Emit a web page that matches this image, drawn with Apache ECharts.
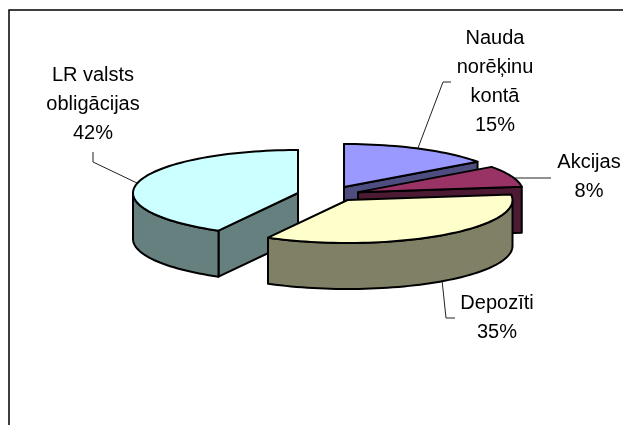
<!DOCTYPE html>
<html lang="lv">
<head>
    <meta charset="UTF-8">
    <title>pie</title>
    <script src="https://cdn.jsdelivr.net/npm/echarts@6/dist/echarts.min.js"></script>
    <style>
        html, body { margin: 0; padding: 0; background: #fff; }
        #view { width: 623px; height: 425px; }
    </style>
</head>
<body>
    <div id="view"></div>
    <script>
    var categories = ['Nauda\nnorēķinu\nkontā', 'Akcijas', 'Depozīti', 'LR valsts\nobligācijas'];
    var values = [15, 8, 35, 42];

    // styles and layout, same order as categories
    var topColors = ['#9999FF', '#993366', '#FFFFCC', '#CCFFFF'];
    var sideColors = ['#4D4D80', '#4D1A33', '#808066', '#668080'];
    var explode = [[0.279, 0.14], [0.364, 0.02], [0.3, -0.163], [0, 0]];
    var drawOrder = [0, 1, 3, 2];
    var labelPos = [[495, 23.4], [589, 147.5], [497, 288.5], [93, 60.5]];
    var leaders = [
        [[418, 148], [443, 82], [451, 82]],
        [[513, 178], [551, 178]],
        [[442, 280], [446, 318], [455, 318]],
        [[137, 183], [93, 162], [93, 152]]
    ];
    var depth = 46 / 43; // in y axis units

    var total = values.reduce(function (a, b) { return a + b; }, 0);
    var starts = [];
    var sum = 0;
    values.forEach(function (v) {
        starts.push(sum / total * 360);
        sum += v;
    });

    function rad(d) { return d * Math.PI / 180; }

    function renderSlice(params, api) {
        var i = api.value(0);
        var a = starts[i];
        var b = a + values[i] / total * 360;
        var ox = explode[i][0];
        var oy = explode[i][1];
        function pt(deg, down) {
            return api.coord([ox + Math.sin(rad(deg)), oy + Math.cos(rad(deg)) - (down ? depth : 0)]);
        }
        function apex(down) {
            return api.coord([ox, oy - (down ? depth : 0)]);
        }
        function piece(points, color) {
            return {
                type: 'polygon',
                shape: { points: points },
                style: { fill: color, stroke: '#000', lineWidth: 2, lineJoin: 'round' }
            };
        }
        var children = [];
        var side = sideColors[i];
        // cut faces
        if (Math.sin(rad(a)) < -0.001 || a === 0) {
            children.push(piece([apex(false), pt(a, false), pt(a, true), apex(true)], side));
        }
        if (Math.sin(rad(b)) > 0.001 || b === 360) {
            children.push(piece([apex(false), pt(b, false), pt(b, true), apex(true)], side));
        }
        // outer rim, only the front half shows
        var r0 = Math.max(a, 90);
        var r1 = Math.min(b, 270);
        var d;
        if (r1 > r0) {
            var upper = [];
            var lower = [];
            for (d = r0; d <= r1; d += 2) {
                upper.push(pt(d, false));
                lower.unshift(pt(d, true));
            }
            upper.push(pt(r1, false));
            lower.unshift(pt(r1, true));
            children.push(piece(upper.concat(lower), side));
        }
        // top face
        var top = [apex(false)];
        for (d = a; d < b; d += 2) {
            top.push(pt(d, false));
        }
        top.push(pt(b, false));
        children.push(piece(top, topColors[i]));
        return { type: 'group', children: children };
    }

    var graphics = [
        {
            type: 'polyline',
            shape: { points: [[9, 425], [9, 10], [623, 10]] },
            style: { stroke: '#000', lineWidth: 1.5, fill: null },
            silent: true
        }
    ];
    leaders.forEach(function (pts) {
        graphics.push({
            type: 'polyline',
            shape: { points: pts },
            style: { stroke: '#222', lineWidth: 1, fill: null },
            silent: true
        });
    });
    categories.forEach(function (name, i) {
        graphics.push({
            type: 'text',
            x: labelPos[i][0],
            y: labelPos[i][1],
            style: {
                text: name + '\n' + values[i] + '%',
                fontFamily: 'Liberation Sans',
                fontSize: 20,
                lineHeight: 29.3,
                fill: '#000',
                align: 'center',
                verticalAlign: 'top'
            },
            silent: true
        });
    });

    var myChart = echarts.init(document.getElementById('view'));
    myChart.setOption({
        animation: false,
        backgroundColor: '#fff',
        grid: { left: 50.5, width: 495, top: 64, height: 258 },
        xAxis: { type: 'value', min: -1.5, max: 1.5, show: false },
        yAxis: { type: 'value', min: -3, max: 3, show: false },
        graphic: graphics,
        series: [{
            type: 'custom',
            coordinateSystem: 'cartesian2d',
            clip: false,
            silent: true,
            renderItem: renderSlice,
            encode: { x: 0, y: 1 },
            data: drawOrder.map(function (i) { return [i, 0]; })
        }]
    });
    </script>
</body>
</html>
